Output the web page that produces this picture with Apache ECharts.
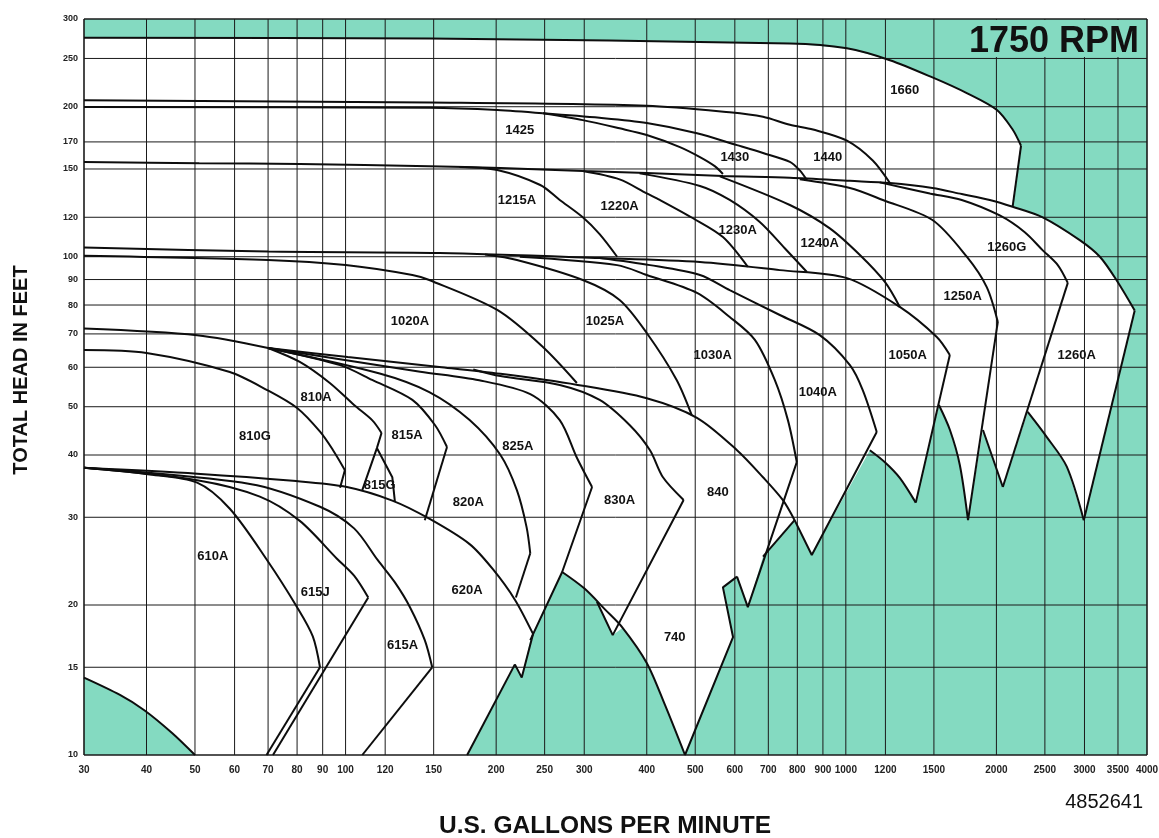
<!DOCTYPE html>
<html><head><meta charset="utf-8">
<script src="https://cdn.jsdelivr.net/npm/echarts@6/dist/echarts.min.js"></script>
<style>html,body{margin:0;padding:0;background:#fff}#c{width:1159px;height:838px}</style>
</head><body><div id="c"></div>
<script>
// ---- axes ticks ----
const xTicks = [30,40,50,60,70,80,90,100,120,150,200,250,300,400,500,600,700,800,900,1000,1200,1500,2000,2500,3000,3500,4000];
const yTicks = [10,15,20,30,40,50,60,70,80,90,100,120,150,170,200,250,300];

// ---- white coverage area (union of pump regions) [gpm, ft] ----
const coverage = [
[30,275],[147,274],[773,268],[1005,262],[1225,248],[1490,229],[1745,213],[2005,197],[2155,180],[2240,167],
[2155,126],[2475,120],[2935,108],[3220,100],[3495,89],[3780,78],
[2990,29.6],[2765,37.9],[2520,43.5],[2310,48.8],[2060,34.5],[1880,44.9],
[1755,29.6],[1690,38.2],[1615,44.9],[1535,50.4],
[1380,32.1],[1282,36],[1197,38.7],[1117,40.9],
[855,25.2],[790,29.6],[683,25],[637,19.8],[606,22.8],[568,21.7],[595,17.25],
[477,10],[435,12.6],[400,15.3],[358,18.0],[342,17.4],[318,20.3],[300,21.6],[271,23.3],
[234,17.0],[225,14.3],[218,15.2],[175,10],
[50,10],[45,11.07],[39.6,12.3],[35.4,13.2],[30,14.3]
];

// ---- pump head curves [gpm, ft] ----
const c1660 = [[30,275],[147,274],[773,268],[1005,262],[1225,248],[1490,229],[1745,213],[2005,197],[2155,180],[2240,167]];
const c1440 = [[30,206],[147,204],[400,201],[586,195],[683,191],[773,184],[860,180],[1005,171],[1132,156],[1225,140.6]];
const c200  = [[30,199.7],[147,199],[201,197],[248,194]];
const c1425 = [[248,194],[298,188],[353,181],[400,175.5],[466,166],[511,158.5],[547,152],[568,146.6]];
const c1430 = [[248,194],[322,190],[400,185.5],[504,177],[606,167.5],[683,161.5],[773,155],[809,149],[836,142.5]];
const c1260A = [[30,155],[51,154],[81,153.5],[147,152],[204,150.7],[298,148.6],[400,147.3],[568,145.2],[773,144],[1019,142],[1225,140.6],[1490,137.4],[1705,133.6],[1940,130],[2155,126],[2475,120],[2935,108],[3220,100],[3495,89],[3780,78]];
const c1260G = [[1169,141],[1472,134],[1705,130],[2031,121],[2279,112],[2476,103],[2653,96.2],[2778,88.6]];
const c1250A = [[809,143],[1019,137.4],[1186,130],[1490,118.5],[1745,100],[1913,86.9],[2013,74]];
const c1240A = [[560,145],[773,127],[929,114],[1067,100.8],[1197,89],[1282,79.3]];
const c1230A = [[387,147],[511,138.7],[586,130],[673,117.4],[755,104],[836,93.2]];
const c1220A = [[298,148.6],[353,143],[400,134],[425,130],[494,119.6],[568,109.5],[637,95.4]];
const c1215A = [[169,151.4],[201,149.3],[245,139.3],[268,130],[298,120],[322,111],[349,100]];
const c1050A = [[30,104.3],[70,102.4],[154,101.7],[322,99.4],[511,97.6],[738,94],[1005,90.6],[1282,79.3],[1520,69],[1614,63.5]];
const c1040A = [[322,99.4],[406,96.2],[511,91.9],[586,85.7],[738,76.4],[887,69.6],[1019,60.6],[1081,54],[1153,44.5]];
const c1030A = [[223,100],[349,96.2],[400,91.9],[504,84.6],[586,75.7],[658,68.1],[721,56.6],[766,47],[798,38.7]];
const c1025A = [[190,101],[220,98.5],[298,89.8],[353,81.9],[400,70.3],[459,56.6],[492,48.1]];
const c1020A = [[30,100.5],[70,98.5],[100,96.2],[136,91.9],[147,89.8],[201,78.2],[248,65.9],[290,55.8]];
const c72   = [[30,71.8],[50.5,69.6],[70,65.6]];
const c840  = [[70,65.6],[101,62.9],[154,60.1],[204,58.2],[291,55.3],[400,52],[504,47.5],[606,40.9],[683,36.1],[748,32.5],[790,29.6]];
const c810G = [[30,65],[40,64.1],[58.7,58.7],[69.7,54],[80,49.7],[89,44.5],[94.4,40.9],[99.7,37.3]];
const c810A = [[70,65.6],[81,61.5],[93,55.8],[104,50.4],[113,47],[118,44.3]];
const c815A = [[70,65.6],[97.5,60.6],[113,56.6],[136,51.6],[151,45.9],[159.5,41.5]];
const c820A = [[70,65.6],[117,58.3],[147,53.5],[177,47],[204,40],[220,34],[230,28.7],[234,25.4]];
const c825A = [[70,65.6],[141,58.8],[185,56.5],[234,53],[268,47],[290,39.5],[311,34.5]];
const c830A = [[180,59.4],[204,57.6],[268,55.3],[322,51.6],[370,45.9],[406,40.9],[431,36.1],[474,32.5]];
const c620A = [[30,37.7],[50.5,36.7],[78.5,35.5],[100.6,34.5],[124,32.4],[147,29.8],[177,26.5],[197,23.6],[218,20.5],[237,17.5]];
const c610A = [[30,37.7],[40.2,36.6],[50.5,35.2],[58.7,31.2],[69.7,24.6],[80,19.8],[86,17.3],[88.9,15]];
const c615J = [[30,37.7],[50.5,35.6],[67.4,33],[81,29.5],[96,24.8],[104,22.9],[111,20.7]];
const c615A = [[30,37.7],[64.4,35],[88.9,31.5],[104,28.5],[116,24.6],[125.5,22.2],[134.5,19.8],[144,17],[149,15]];
const c740  = [[271,23.3],[300,21.6],[330,19.6],[358,18.0],[400,15.3],[435,12.6],[477,10]];
const c1260Alow = [[2310,48.8],[2520,43.5],[2765,37.9],[2990,29.6]];
const c1250Alow = [[1535,50.4],[1615,44.9],[1690,38.2],[1755,29.6]];
const c1050Alow = [[1117,40.9],[1197,38.7],[1282,36],[1380,32.1]];
const cornerArc = [[30,14.3],[35.4,13.2],[39.6,12.3],[45,11.07],[50,10]];

// ---- straight boundary lines [gpm, ft] ----
const s1660 = [[2240,167],[2155,126]];
const s1260A = [[3780,78],[2990,29.6]];
const s1260G = [[2778,88.6],[2060,34.5]];
const s1260Glow = [[1880,44.9],[2060,34.5]];
const s1250A = [[2013,74],[1755,29.6]];
const s1050A = [[1614,63.5],[1380,32.1]];
const s1040A = [[1153,44.5],[855,25.2],[790,29.6]];
const s840 = [[790,29.6],[683,25]];
const s1030A = [[798,38.7],[637,19.8],[606,22.8]];
const s740 = [[606,22.8],[568,21.7],[595,17.25],[477,10]];
const s830A = [[474,32.5],[342,17.4],[318,20.3]];
const s825A = [[311,34.5],[271,23.3],[234,17.0]];
const sLeftEdge = [[218,15.2],[175,10]];
const s620A = [[237,17.5],[225,14.3],[218,15.2]];
const s820A = [[234,25.4],[219,20.7]];
const s815A = [[159.5,41.5],[144,29.6]];
const s810A = [[118,44.3],[115.5,41.3],[108,34]];
const s815G = [[115.5,41.3],[124,36.1],[125.5,32.2]];
const s810G = [[99.7,37.3],[97.5,34.4]];
const s610A = [[88.9,15],[69.5,10]];
const s615J = [[111,20.7],[71.6,10]];
const s615A = [[149,15],[108,10]];

// ---- pump labels [gpm, ft, name] ----
const pumpLabels = [
[1312,216,'1660'],[223,179,'1425'],[600,158.5,'1430'],[920,158.5,'1440'],
[220,130,'1215A'],[353,126,'1220A'],[608,113,'1230A'],[887,106.5,'1240A'],[2098,104.6,'1260G'],
[1713,83.4,'1250A'],[134.5,74,'1020A'],[330,74,'1025A'],[542,63.5,'1030A'],[1330,63.5,'1050A'],[2895,63.5,'1260A'],
[879,53.3,'1040A'],[87.3,52.3,'810A'],[65.9,43.5,'810G'],[132.7,43.7,'815A'],[221,41.7,'825A'],[117,34.8,'815G'],
[555,33.7,'840'],[353,32.5,'830A'],[176,32.2,'820A'],[54.3,25,'610A'],[175,21.4,'620A'],[87,21.2,'615J'],[130,16.6,'615A'],[455,17.25,'740']
];

const smoothCurves = [c1660,c1440,c200,c1425,c1430,c1260A,c1260G,c1250A,c1240A,c1230A,c1220A,c1215A,
  c1050A,c1040A,c1030A,c1025A,c1020A,c72,c840,c810G,c810A,c815A,c820A,c825A,c830A,
  c620A,c610A,c615J,c615A,c740,c1260Alow,c1250Alow,c1050Alow,cornerArc];
const straightLines = [s1660,s1260A,s1260G,s1260Glow,s1250A,s1050A,s1040A,s840,s1030A,s740,s830A,s825A,
  sLeftEdge,s620A,s820A,s815A,s810A,s815G,s810G,s610A,s615J,s615A];

const TEAL = '#84dac1';
const FONT = '"Liberation Sans", Arial, Helvetica, sans-serif';

const series = [];
series.push({
  type:'custom', z:1, silent:true, data: coverage,
  renderItem:(p, api) => p.dataIndex === 0 ? {
    type:'polygon', shape:{points: coverage.map(q => api.coord(q))}, style:{fill:'#ffffff'}
  } : null
});
series.push({
  type:'custom', z:2, silent:true, data: xTicks.map(v => [v, 10]),
  renderItem:(p, api) => {
    const v = xTicks[p.dataIndex];
    const a = api.coord([v, 10]), b = api.coord([v, 300]);
    return {type:'line', shape:{x1:a[0], y1:a[1], x2:b[0], y2:b[1]},
      style:{stroke:'#1a1a1a', lineWidth:(v===30||v===4000)?1.6:1}};
  }
});
series.push({
  type:'custom', z:2, silent:true, data: yTicks.map(v => [30, v]),
  renderItem:(p, api) => {
    const v = yTicks[p.dataIndex];
    const a = api.coord([30, v]), b = api.coord([4000, v]);
    return {type:'line', shape:{x1:a[0], y1:a[1], x2:b[0], y2:b[1]},
      style:{stroke:'#1a1a1a', lineWidth:(v===10||v===300)?1.6:1}};
  }
});
smoothCurves.forEach(d => series.push({
  type:'line', data:d, smooth:0.3, showSymbol:false, symbol:'none',
  lineStyle:{color:'#0d0d0d', width:2}, z:3, silent:true
}));
straightLines.forEach(d => series.push({
  type:'line', data:d, smooth:false, showSymbol:false, symbol:'none',
  lineStyle:{color:'#0d0d0d', width:2}, z:3, silent:true
}));
series.push({
  type:'custom', z:4, silent:true, data: pumpLabels.map(r => [r[0], r[1]]),
  renderItem:(p, api) => {
    const r = pumpLabels[p.dataIndex];
    const c = api.coord([r[0], r[1]]);
    return {type:'text', x:c[0], y:c[1], style:{text:r[2], align:'center', verticalAlign:'middle',
      font:'bold 13px ' + FONT, fill:'#111'}};
  }
});
series.push({
  type:'custom', z:4, silent:true, clip:false, data: xTicks.map(v => [v, 10]),
  renderItem:(p, api) => {
    const v = xTicks[p.dataIndex];
    const c = api.coord([v, 10]);
    return {type:'text', x:c[0], y:c[1] + 15, style:{text:String(v), align:'center', verticalAlign:'middle',
      font:'bold 10px ' + FONT, fill:'#222'}};
  }
});
series.push({
  type:'custom', z:4, silent:true, clip:false, data: yTicks.map(v => [30, v]),
  renderItem:(p, api) => {
    const v = yTicks[p.dataIndex];
    const c = api.coord([30, v]);
    return {type:'text', x:c[0] - 6, y:c[1], style:{text:String(v), align:'right', verticalAlign:'middle',
      font:'bold 9px ' + FONT, fill:'#222'}};
  }
});

const chart = echarts.init(document.getElementById('c'));
chart.setOption({
  animation:false,
  backgroundColor:'#ffffff',
  grid:{left:84, right:12, top:19, bottom:83, show:true, backgroundColor:TEAL, borderWidth:0},
  xAxis:{type:'log', logBase:10, min:30, max:4000, axisLine:{show:false}, axisTick:{show:false},
    axisLabel:{show:false}, splitLine:{show:false}},
  yAxis:{type:'log', logBase:10, min:10, max:300, axisLine:{show:false}, axisTick:{show:false},
    axisLabel:{show:false}, splitLine:{show:false}},
  series: series,
  graphic:[
    {type:'rect', x:946, y:20, shape:{width:200, height:37}, style:{fill:TEAL}, z:10},
    {type:'text', x:1139, y:42, z:11, style:{text:'1750 RPM', align:'right', verticalAlign:'middle',
      font:'bold 36px ' + FONT, fill:'#111'}},
    {type:'text', x:21, y:370, rotation:Math.PI/2, z:11, style:{text:'TOTAL HEAD IN FEET', align:'center',
      verticalAlign:'middle', font:'bold 20px ' + FONT, fill:'#111'}},
    {type:'text', x:605, y:826, z:11, style:{text:'U.S. GALLONS PER MINUTE', align:'center',
      verticalAlign:'middle', font:'bold 24.5px ' + FONT, fill:'#111'}},
    {type:'text', x:1143, y:802, z:11, style:{text:'4852641', align:'right',
      verticalAlign:'middle', font:'20px ' + FONT, fill:'#111'}}
  ]
});
</script></body></html>
